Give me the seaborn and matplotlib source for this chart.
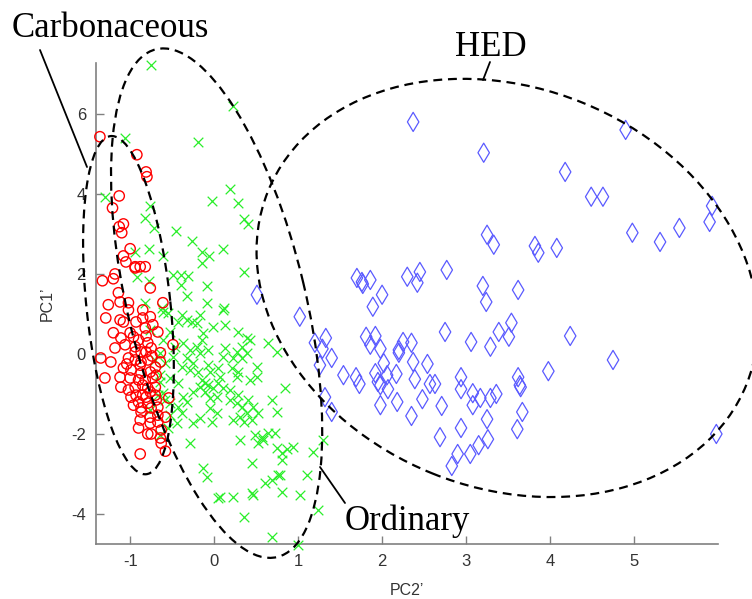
import numpy as np
import pandas as pd
import matplotlib
matplotlib.use("Agg")
import matplotlib.pyplot as plt
import seaborn as sns
from matplotlib.patches import Ellipse
from matplotlib.lines import Line2D
from matplotlib.transforms import ScaledTranslation

# ---------------- data ----------------
carb_x = [-1.36, -0.92, -0.81, -0.80, -1.13, -1.21, -1.08, -1.13, -1.10, -1.00, -1.08, -1.05,
          -0.94, -0.88, -0.82, -0.94, -1.18, -1.20, -1.33, -0.76, -1.14, -1.12, -1.26, -1.02,
          -0.61, -0.85, -1.02, -0.76, -0.85, -0.93, -1.08, -1.29, -1.12, -0.73, -0.67, -0.82,
          -1.00, -0.96, -1.20, -1.11, -1.06, -1.18, -0.94, -0.79, -0.64, -0.75, -0.87, -0.49,
          -1.35, -1.23, -1.02, -0.94, -0.87, -0.79, -0.64, -0.70, -1.08, -0.99, -0.87, -0.76,
          -0.69, -1.00, -0.90, -1.12, -1.30, -0.94, -0.85, -0.79, -0.70, -1.11, -1.02, -0.93,
          -0.81, -0.70, -0.90, -0.79, -0.69, -0.54, -0.96, -0.87, -0.75, -0.67, -0.87, -0.76,
          -0.67, -0.58, -0.88, -0.76, -0.67, -0.90, -0.79, -0.75, -0.63, -0.64, -0.63, -0.58,
          -0.88, -0.82, -0.76, -0.88, -0.81, -0.94, -0.73, -0.85, -0.99, -0.81, -0.90, -0.74,
          -1.04]
carb_y = [5.43, 4.98, 4.55, 4.43, 3.95, 3.65, 3.25, 3.18, 3.03, 2.63, 2.45, 2.30,
          2.18, 2.18, 2.18, 2.15, 2.00, 1.88, 1.83, 1.65, 1.53, 1.30, 1.23, 1.28,
          1.28, 1.10, 1.10, 0.93, 0.90, 0.80, 0.80, 0.90, 0.85, 0.73, 0.55, 0.65,
          0.53, 0.43, 0.53, 0.40, 0.23, 0.15, 0.18, 0.28, 0.03, 0.15, 0.05, 0.23,
          -0.10, -0.20, -0.10, -0.15, -0.20, -0.15, -0.20, -0.33, -0.35, -0.40, -0.48, -0.45,
          -0.53, -0.60, -0.65, -0.58, -0.60, -0.83, -0.78, -0.85, -0.83, -0.83, -0.90, -1.03,
          -1.08, -1.03, -1.20, -1.23, -1.15, -1.10, -1.28, -1.35, -1.35, -1.33, -1.45, -1.58,
          -1.53, -1.58, -1.65, -1.73, -1.70, -1.85, -2.00, -2.00, -1.90, -2.10, -2.23, -2.43,
          -2.50, -0.65, -0.95, -0.28, 0.05, 0.05, -0.60, -1.03, -1.08, 0.45, 0.35, -0.05,
          -0.25]

ord_x = [-0.75, 0.23, -1.06, -0.19, -1.30, -0.76, -0.82, -0.71, -0.45, -0.94, -0.77, -0.61,
         -0.92, -0.77, -0.49, -0.39, -0.40, 0.19, -0.02, 0.29, 0.35, 0.40, -0.26, -0.15,
         -0.06, -0.14, 0.11, 0.36, -0.31, -0.08, -0.32, -0.08, 0.12, -0.62, -0.55, -0.38,
         -0.32, -0.43, -0.26, -0.17, -0.20, 0.11, 0.13, -0.01, 0.29, 0.39, 0.43, 0.33,
         0.27, 0.39, -0.13, -0.14, -0.20, -0.29, -0.37, -0.07, -0.17, 0.13, 0.10, 0.33,
         0.23, 0.64, 0.75, -0.52, -0.61, -0.46, -0.64, -0.49, -0.58, -0.32, -0.25, -0.38,
         -0.29, -0.19, -0.07, -0.05, 0.05, 0.07, 0.21, 0.29, 0.27, 0.51, 0.51, 0.43,
         -0.14, -0.11, -0.17, -0.07, -0.01, 0.05, 0.10, -0.25, -0.11, -0.05, 0.04, -0.37,
         -0.32, -0.43, -0.52, -0.61, -0.64, -0.52, -0.43, 0.19, 0.29, 0.19, 0.27, 0.33,
         0.40, 0.46, 0.52, 0.39, 0.31, 0.23, 0.35, 0.45, 0.85, 0.69, 0.75, -0.05,
         0.04, -0.02, -0.17, -0.25, -0.38, -0.44, -0.55, -0.64, 0.49, 0.57, 0.64, 0.58,
         0.73, 0.52, -0.29, 0.31, 0.75, 0.81, 0.87, 0.94, 0.81, 1.18, 1.30, 0.45,
         -0.13, -0.08, 1.11, 0.76, 0.05, 0.07, 0.23, 0.45, 0.46, 0.61, 0.69, 0.79,
         0.81, 1.02, 1.24, 0.35, 0.69, 1.00, -0.76, -0.70, -0.64, -0.67, -0.76, -0.58,
         -0.52, -0.82, -0.61]
ord_y = [7.23, 6.20, 5.40, 5.30, 3.93, 3.70, 3.40, 3.15, 3.08, 2.55, 2.63, 2.45,
         1.93, 1.83, 1.98, 1.98, 1.73, 4.13, 3.83, 3.78, 3.38, 3.25, 2.83, 2.55,
         2.45, 2.28, 2.63, 2.05, 1.95, 1.70, 1.45, 1.28, 1.15, 1.15, 1.03, 0.98,
         0.85, 0.80, 0.80, 0.98, 0.78, 1.10, 0.73, 0.68, 0.55, 0.40, 0.35, 0.18,
         0.05, 0.03, 0.53, 0.35, 0.18, 0.10, 0.28, 0.10, 0.03, 0.15, -0.08, -0.10,
         -0.10, 0.28, 0.05, 0.55, 0.35, 0.18, 0.03, -0.08, -0.23, -0.10, -0.23, -0.33,
         -0.40, -0.45, -0.28, -0.45, -0.35, -0.58, -0.35, -0.45, -0.58, -0.33, -0.58, -0.65,
         -0.65, -0.73, -0.83, -0.78, -0.85, -0.73, -0.85, -0.95, -0.95, -1.10, -1.08, -1.08,
         -1.20, -1.33, -1.23, -0.98, -0.70, -0.60, -0.73, -0.90, -1.03, -1.15, -1.23, -1.33,
         -1.15, -1.33, -1.48, -1.48, -1.58, -1.65, -1.70, -1.65, -0.85, -1.15, -1.45, -1.35,
         -1.48, -1.70, -1.60, -1.73, -1.48, -1.73, -1.85, -2.03, -2.03, -2.08, -1.98, -2.15,
         -1.98, -2.23, -2.23, -2.15, -2.35, -2.48, -2.38, -2.33, -2.65, -2.45, -2.15, -2.73,
         -2.85, -3.08, -3.03, -3.03, -3.60, -3.58, -3.58, -3.48, -3.53, -3.23, -3.15, -3.02,
         -3.45, -3.53, -3.90, -4.08, -4.58, -4.78, 0.60, -0.15, -0.53, -1.03, -1.40, -1.15,
         -1.53, 1.28, 1.05]

hed_x = [2.37, 3.21, 4.18, 4.90, 4.49, 4.63, 5.93, 5.90, 4.98, 5.31, 5.54, 3.25,
         3.33, 3.82, 3.86, 4.08, 2.77, 1.70, 1.76, 1.77, 1.86, 2.00, 1.89, 2.30,
         2.45, 2.42, 3.20, 3.24, 3.62, 1.02, 1.33, 1.20, 1.29, 1.40, 1.26, 1.54,
         1.69, 1.73, 1.81, 1.92, 1.86, 1.98, 2.02, 1.92, 1.95, 1.98, 2.06, 2.17,
         2.07, 1.98, 2.18, 2.20, 2.25, 2.35, 2.20, 2.37, 2.54, 2.39, 2.57, 2.63,
         2.48, 2.35, 2.71, 2.75, 3.06, 3.29, 3.39, 3.54, 3.51, 2.94, 2.94, 3.08,
         3.08, 3.17, 3.29, 3.36, 3.62, 3.64, 3.65, 3.98, 3.67, 3.25, 2.94, 2.69,
         3.61, 3.26, 3.15, 2.90, 3.05, 1.32, 1.40, 0.51, 5.98, 4.75, 4.24, 2.83]
hed_y = [5.80, 5.03, 4.55, 5.60, 3.93, 3.93, 3.70, 3.30, 3.03, 2.80, 3.15, 2.98,
         2.73, 2.70, 2.53, 2.65, 2.10, 1.90, 1.80, 1.75, 1.85, 1.48, 1.18, 1.93,
         2.05, 1.78, 1.70, 1.30, 1.60, 0.93, 0.40, 0.28, 0.13, -0.10, -0.28, -0.53,
         -0.58, -0.75, 0.43, 0.45, 0.23, 0.13, -0.23, -0.48, -0.70, -0.78, -0.53, -0.50,
         -0.88, -1.28, -1.20, 0.10, 0.30, 0.28, 0.03, -0.20, -0.25, -0.63, -0.75, -0.75,
         -1.13, -1.55, -1.30, 0.55, 0.30, 0.18, 0.55, 0.78, 0.43, -0.58, -0.88, -0.98,
         -1.28, -1.10, -1.10, -1.00, -0.58, -0.78, -0.83, -0.43, -1.45, -1.63, -1.85, -2.08,
         -1.88, -2.13, -2.28, -2.50, -2.50, -1.08, -1.45, 1.48, -2.00, -0.15, 0.45, -2.80]

x_ticks = [-1, 0, 1, 2, 3, 4, 5]
y_ticks = [-4, -2, 0, 2, 4, 6]
x_label = "PC2\u2019"
y_label = "PC1\u2019"

# group annotations: name, ellipse centre (data), semi-axes (px), angle (deg)
groups = ["Carbonaceous", "Ordinary", "HED"]
ell_cx = [-1.02, 0.03, 3.49]
ell_cy = [1.22, 1.27, 1.65]
ell_a = [170, 261, 258]
ell_b = [42, 89, 200]
ell_ang = [96, 103.4, -22]

# ---------------- figure ----------------
W, H, DPI = 752, 599, 100
sns.set_style("ticks")
plt.rcParams["font.family"] = ["Liberation Sans", "DejaVu Sans"]

fig = plt.figure(figsize=(W / DPI, H / DPI), dpi=DPI)
ax = fig.add_axes([95.7 / W, 55 / H, 622.3 / W, 481.3 / H])

df_c = pd.DataFrame({"x": carb_x, "y": carb_y})
df_o = pd.DataFrame({"x": ord_x, "y": ord_y})
df_h = pd.DataFrame({"x": hed_x, "y": hed_y})

sns.scatterplot(data=df_h, x="x", y="y", ax=ax, marker="d", s=95,
                fc="none", ec="#5a5aff", linewidth=0.9, zorder=3)
sns.scatterplot(data=df_o, x="x", y="y", ax=ax, marker="x", s=48,
                color="#2aee2a", linewidth=0.9, zorder=3)
sns.scatterplot(data=df_c, x="x", y="y", ax=ax, marker="o", s=55,
                fc="none", ec="#ff0000", linewidth=1.0, zorder=4)
for coll in ax.collections:
    coll.set_clip_on(False)

ax.set_xlim(-1.41, 6.0)
ax.set_ylim(-4.75, 7.28)
ax.set_xticks(x_ticks)
ax.set_yticks(y_ticks)
ax.set_xticklabels([str(t) for t in x_ticks])
ax.set_yticklabels([str(t) for t in y_ticks])
ax.set_xlabel(x_label, fontsize=11.5, color="#333333", labelpad=10)
ax.set_ylabel(y_label, fontsize=11.5, color="#333333", labelpad=12)
ax.tick_params(direction="in", length=6, width=1.0, colors="#808080",
               labelcolor="#333333", labelsize=12, pad=7)
for s in ["top", "right"]:
    ax.spines[s].set_visible(False)
for s in ["left", "bottom"]:
    ax.spines[s].set_color("#808080")
    ax.spines[s].set_linewidth(1.2)

# ellipses (semi-axes in pixels, centre anchored in data)
for cx, cy, a, b, ang in zip(ell_cx, ell_cy, ell_a, ell_b, ell_ang):
    tr = fig.dpi_scale_trans + ScaledTranslation(cx, cy, ax.transData)
    e = Ellipse((0, 0), 2 * a / DPI, 2 * b / DPI, angle=ang, transform=tr,
                fill=False, ec="black", lw=1.6, ls=(0, (4, 2.6)),
                clip_on=False, zorder=5)
    ax.add_patch(e)

# labels with pointer lines (figure pixel positions)
serif = ["Liberation Serif", "DejaVu Serif"]
label_pos = [(12, 37), (345, 530), (455, 56)]
line_pos = [((40, 50), (87, 167)), ((320, 467), (345, 503)), ((490, 62), (483, 80))]
for name, (tx, ty), ((x0, y0), (x1, y1)) in zip(groups, label_pos, line_pos):
    fig.text(tx / W, 1 - ty / H, name, family=serif, fontsize=25,
             ha="left", va="baseline", color="black")
    fig.add_artist(Line2D([x0 / W, x1 / W], [1 - y0 / H, 1 - y1 / H],
                          transform=fig.transFigure, color="black", lw=1.3))

fig.savefig("out.png", dpi=DPI)
